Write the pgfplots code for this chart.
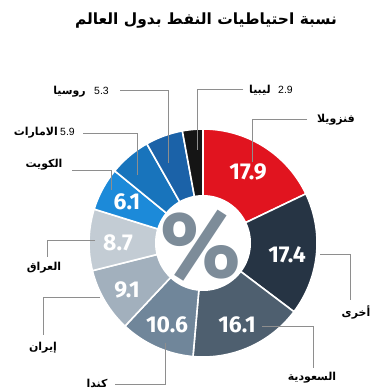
\documentclass[border=0pt]{standalone}
\usepackage{pgfplots}
\pgfplotsset{compat=1.18}
\usepackage{fontspec}
\setmainfont{Liberation Sans}
\newfontfamily\arabicfont[Script=Arabic]{DejaVu Sans}
\newfontfamily\numfont{Fira Sans}
\TeXXeTstate=1

\definecolor{cVen}{HTML}{E1141F}
\definecolor{cOth}{HTML}{263444}
\definecolor{cSau}{HTML}{4E5F6F}
\definecolor{cCan}{HTML}{70869A}
\definecolor{cIrn}{HTML}{A2B0BD}
\definecolor{cIrq}{HTML}{C3CCD4}
\definecolor{cKuw}{HTML}{1C8AD9}
\definecolor{cUae}{HTML}{1874BC}
\definecolor{cRus}{HTML}{1B62A8}
\definecolor{cLby}{HTML}{151515}
\definecolor{cPct}{HTML}{7D8C99}
\definecolor{cLead}{HTML}{8E8E8E}

% #1 cumulative start (percent), #2 value (percent), #3 colour
\newcommand\seg[3]{%
  \addplot[fill=#3, draw=white, line width=1.6pt, line join=round,
    domain={90-3.6*(#1+#2)}:{90-3.6*(#1)}, samples=60]
    ({203+114*cos(x)},{243-114*sin(x)}) -- (axis cs:203,243) -- cycle;
}

\begin{document}
\begin{tikzpicture}
\begin{axis}[
  width=392bp, height=390bp, scale only axis,
  xmin=0, xmax=392, ymin=0, ymax=390, y dir=reverse,
  hide axis, clip=false]
\path (rel axis cs:0,0) rectangle (rel axis cs:1,1);

% shares of world oil reserves (%)
\seg{0}{17.9}{cVen}
\seg{17.9}{17.4}{cOth}
\seg{35.3}{16.1}{cSau}
\seg{51.4}{10.6}{cCan}
\seg{62.0}{9.1}{cIrn}
\seg{71.1}{8.7}{cIrq}
\seg{79.8}{6.1}{cKuw}
\seg{85.9}{5.9}{cUae}
\seg{91.8}{5.3}{cRus}
\seg{97.1}{2.9}{cLby}

\addplot[fill=white, draw=none, domain=0:360, samples=120]
  ({203+48*cos(x)},{243-48*sin(x)}) -- cycle;

\node[text=cPct, font=\numfont\bfseries\fontsize{94}{94}\selectfont, inner sep=0]
  at (axis cs:201,246) {\%};

% numbers in segments
\tikzset{segnum/.style={text=white, font=\numfont\bfseries\fontsize{23}{23}\selectfont, inner sep=0}}
\node[segnum] at (axis cs:248,172) {17.9};
\node[segnum] at (axis cs:287,255) {17.4};
\node[segnum] at (axis cs:237,325) {16.1};
\node[segnum] at (axis cs:167,325) {10.6};
\node[segnum] at (axis cs:127,290) {9.1};
\node[segnum] at (axis cs:118,243) {8.7};
\node[segnum] at (axis cs:127,202) {6.1};

% leader lines
\tikzset{lead/.style={draw=cLead, line width=0.8pt}}
\draw[lead] (axis cs:120,90) -- (axis cs:168,90) -- (axis cs:168,163);
\draw[lead] (axis cs:243,89) -- (axis cs:197,89) -- (axis cs:197,150);
\draw[lead] (axis cs:307,119) -- (axis cs:252,119) -- (axis cs:252,162);
\draw[lead] (axis cs:83,133) -- (axis cs:137,133) -- (axis cs:137,175);
\draw[lead] (axis cs:72,170) -- (axis cs:111,170) -- (axis cs:111,190);
\draw[lead] (axis cs:95,240) -- (axis cs:47,240) -- (axis cs:47,257);
\draw[lead] (axis cs:100,297) -- (axis cs:43,297) -- (axis cs:43,335);
\draw[lead] (axis cs:165,343) -- (axis cs:165,384) -- (axis cs:115,384);
\draw[lead] (axis cs:320,254) -- (axis cs:350,254) -- (axis cs:350,300);
\draw[lead] (axis cs:262,326) -- (axis cs:313,326) -- (axis cs:313,368);

% labels
\tikzset{lab/.style={font=\arabicfont\bfseries\fontsize{11}{13}\selectfont, inner sep=0},
         labn/.style={font=\fontsize{10.5}{12}\selectfont, inner sep=0}}
\node[lab, anchor=east] at (axis cs:86,92) {\beginR روسيا\endR};
\node[labn, anchor=west] at (axis cs:94,91) {5.3};
\node[lab, anchor=east] at (axis cs:58,133) {\beginR الامارات\endR};
\node[labn, anchor=west] at (axis cs:60,132) {5.9};
\node[lab, anchor=east] at (axis cs:271,90) {\beginR ليبيا\endR};
\node[labn, anchor=west] at (axis cs:278,90) {2.9};
\node[lab] at (axis cs:336,120) {\beginR فنزويلا\endR};
\node[lab] at (axis cs:44,165) {\beginR الكويت\endR};
\node[lab] at (axis cs:44,268) {\beginR العراق\endR};
\node[lab] at (axis cs:43,348) {\beginR إيران\endR};
\node[lab] at (axis cs:97,383) {\beginR كندا\endR};
\node[lab] at (axis cs:356,312) {\beginR أخرى\endR};
\node[lab] at (axis cs:312,378) {\beginR السعودية\endR};

% title
\node[font=\arabicfont\bfseries\fontsize{15.5}{18}\selectfont, inner sep=0]
  at (axis cs:206,21) {\beginR نسبة احتياطيات النفط بدول العالم\endR};
\end{axis}
\end{tikzpicture}
\end{document}
